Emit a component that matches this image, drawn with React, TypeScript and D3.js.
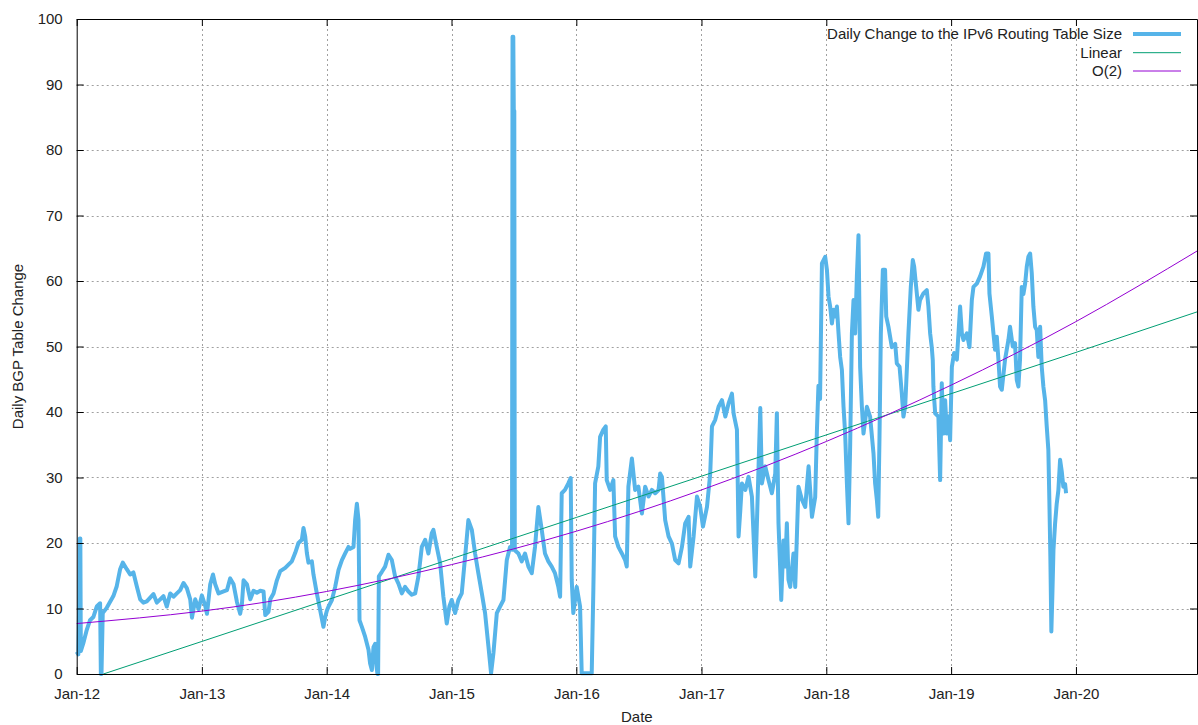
import React, { useEffect, useRef } from "react";
import * as d3 from "d3";

const W = 1198;
const H = 725;
const LEFT = 76.7;
const RIGHT = 1197;
const TOP = 19;
const BOTTOM = 674;

const xStart = new Date(2012, 0, 1);
const xEnd = new Date(2020, 11, 20);
const yDomain = [0, 100];
const yTicks = [0, 10, 20, 30, 40, 50, 60, 70, 80, 90, 100];
const xTickYears = [2012, 2013, 2014, 2015, 2016, 2017, 2018, 2019, 2020];

const seriesNames = ["Daily Change to the IPv6 Routing Table Size", "Linear", "O(2)"];
const seriesColors = ["#56b4e9", "#009e73", "#9400d3"];

// [decimal year, daily change]
const dailyChange: [number, number][] = [
  [2012.000, 3.4], [2012.013, 3.0], [2012.021, 12], [2012.025, 20.7], [2012.029, 20.7], [2012.033, 3.5],
  [2012.053, 4.7], [2012.080, 6.7], [2012.106, 8.2], [2012.133, 8.7], [2012.160, 10.3], [2012.187, 10.8],
  [2012.193, 0], [2012.198, 0], [2012.208, 9.3], [2012.240, 10.1], [2012.293, 11.9], [2012.320, 13.4],
  [2012.347, 16], [2012.368, 17], [2012.400, 16], [2012.427, 15.2], [2012.453, 15.5], [2012.480, 13.4],
  [2012.507, 11.4], [2012.533, 10.9], [2012.560, 11.1], [2012.613, 12.2], [2012.640, 10.9], [2012.667, 11.4],
  [2012.693, 11.9], [2012.720, 10.3], [2012.747, 12.3], [2012.773, 11.8], [2012.800, 12.3], [2012.827, 12.8],
  [2012.853, 13.9], [2012.880, 13.1], [2012.907, 11.4], [2012.921, 8.6], [2012.947, 11.4], [2012.974, 9.9],
  [2013.000, 12], [2013.027, 10.4], [2013.041, 9.2], [2013.067, 13.7], [2013.089, 15.2], [2013.107, 13.7],
  [2013.134, 12.3], [2013.174, 12.6], [2013.201, 12.8], [2013.227, 14.6], [2013.254, 13.7], [2013.281, 11],
  [2013.307, 9.2], [2013.321, 10.7], [2013.334, 14.3], [2013.361, 13.7], [2013.388, 11.4], [2013.414, 12.7],
  [2013.441, 12.4], [2013.468, 12.7], [2013.494, 12.6], [2013.508, 9], [2013.534, 9.5], [2013.548, 11.4],
  [2013.574, 12.3], [2013.601, 14.3], [2013.628, 15.7], [2013.668, 16.2], [2013.694, 16.7], [2013.721, 17.2],
  [2013.748, 18.5], [2013.774, 20], [2013.801, 20.5], [2013.814, 22.3], [2013.828, 21], [2013.841, 18.5],
  [2013.854, 17], [2013.881, 17.2], [2013.894, 15.2], [2013.921, 12.3], [2013.948, 9.7], [2013.974, 7.2],
  [2013.988, 8.7], [2014.002, 9.7], [2014.015, 10.3], [2014.042, 11.3], [2014.068, 13.3], [2014.095, 15.9],
  [2014.122, 17.4], [2014.148, 18.4], [2014.175, 19.4], [2014.188, 19.1], [2014.215, 19.4], [2014.228, 23.5],
  [2014.242, 26], [2014.255, 23.5], [2014.263, 8.2], [2014.282, 7.2], [2014.308, 5.7], [2014.335, 3.7],
  [2014.348, 1.6], [2014.362, 0.6], [2014.375, 4.1], [2014.388, 4.6], [2014.400, 1], [2014.407, 0],
  [2014.412, 0], [2014.418, 14.9], [2014.442, 15.6], [2014.468, 16.4], [2014.495, 18.2], [2014.522, 17.4],
  [2014.548, 14.9], [2014.575, 13.8], [2014.602, 12.3], [2014.628, 13.3], [2014.655, 12.6], [2014.682, 12.1],
  [2014.709, 12.3], [2014.735, 14.9], [2014.762, 19.4], [2014.789, 20.5], [2014.815, 18.4], [2014.842, 21.5],
  [2014.855, 22], [2014.882, 19.4], [2014.909, 16.9], [2014.935, 11.8], [2014.962, 7.7], [2014.983, 10.3],
  [2015.002, 11.3], [2015.029, 9.3], [2015.055, 11.3], [2015.082, 12.3], [2015.109, 17.9], [2015.135, 23.5],
  [2015.163, 22], [2015.189, 18.4], [2015.215, 15.4], [2015.243, 12.3], [2015.269, 9.3], [2015.296, 4.2],
  [2015.317, 0.1], [2015.336, 3.2], [2015.363, 9.3], [2015.389, 10.3], [2015.416, 11.3], [2015.443, 17.4],
  [2015.469, 19.4], [2015.485, 19], [2015.489, 97.3], [2015.495, 97.3], [2015.499, 86], [2015.503, 86],
  [2015.507, 18.9], [2015.536, 18.4], [2015.563, 17.2], [2015.589, 18.4], [2015.616, 16.4], [2015.643, 15.4],
  [2015.669, 19.4], [2015.696, 25.5], [2015.723, 22], [2015.749, 18.4], [2015.776, 17.2], [2015.803, 16.4],
  [2015.829, 15.4], [2015.856, 13.3], [2015.870, 11.8], [2015.883, 27.6], [2015.909, 28.1], [2015.936, 29.1],
  [2015.955, 29.9], [2015.963, 14.4], [2015.976, 9.3], [2016.003, 13.3], [2016.030, 10.3], [2016.043, 0.1],
  [2016.123, 0.1], [2016.136, 12.8], [2016.150, 29.1], [2016.176, 31.7], [2016.190, 36.2], [2016.216, 37.3],
  [2016.235, 37.8], [2016.243, 29.6], [2016.270, 28.1], [2016.296, 29.6], [2016.310, 21], [2016.336, 19.4],
  [2016.364, 18.4], [2016.390, 17.4], [2016.403, 16.4], [2016.416, 28.6], [2016.444, 32.9], [2016.470, 28.1],
  [2016.496, 28.6], [2016.524, 24.5], [2016.550, 28.6], [2016.577, 27.1], [2016.604, 28.1], [2016.630, 27.6],
  [2016.657, 28.1], [2016.670, 30.6], [2016.684, 30.1], [2016.710, 23.5], [2016.737, 21], [2016.764, 19.9],
  [2016.790, 17.4], [2016.817, 16.9], [2016.844, 19.4], [2016.870, 23], [2016.897, 24], [2016.910, 16.4],
  [2016.937, 21], [2016.964, 27.1], [2016.990, 25.5], [2017.012, 22.5], [2017.044, 25.5], [2017.070, 30.6],
  [2017.084, 37.8], [2017.110, 38.8], [2017.137, 40.8], [2017.164, 41.8], [2017.191, 39.3], [2017.217, 41.3],
  [2017.244, 42.8], [2017.257, 39.8], [2017.284, 37.3], [2017.297, 21], [2017.311, 25], [2017.324, 29.1],
  [2017.351, 28.1], [2017.377, 30.1], [2017.404, 27.1], [2017.431, 14.9], [2017.444, 23], [2017.471, 40.6],
  [2017.484, 29.1], [2017.511, 31.7], [2017.537, 29.6], [2017.564, 27.6], [2017.591, 30.6], [2017.604, 39.8],
  [2017.617, 23], [2017.631, 15.9], [2017.639, 11.3], [2017.657, 20.4], [2017.671, 16.4], [2017.684, 23],
  [2017.697, 14.4], [2017.711, 13.3], [2017.737, 18.4], [2017.751, 13.3], [2017.764, 20.9], [2017.777, 28.6],
  [2017.805, 26.6], [2017.831, 25.5], [2017.858, 31.7], [2017.885, 24], [2017.911, 27], [2017.925, 37.3],
  [2017.937, 44], [2017.950, 42], [2017.965, 62.7], [2017.991, 63.7], [2018.005, 61.7], [2018.018, 57.6],
  [2018.031, 56.1], [2018.045, 53.5], [2018.058, 55.6], [2018.071, 54.6], [2018.085, 56.1], [2018.098, 52],
  [2018.111, 48.4], [2018.125, 46.4], [2018.138, 40.8], [2018.151, 36.7], [2018.165, 29.1], [2018.178, 23],
  [2018.191, 34.7], [2018.205, 52], [2018.218, 57.1], [2018.231, 52], [2018.245, 60.7], [2018.258, 67],
  [2018.271, 46.9], [2018.285, 40.8], [2018.298, 36.7], [2018.325, 40.8], [2018.351, 39.3], [2018.378, 33.7],
  [2018.391, 29.1], [2018.405, 26.6], [2018.416, 24], [2018.426, 36], [2018.437, 52], [2018.453, 61.7],
  [2018.471, 61.7], [2018.480, 54.6], [2018.498, 53], [2018.525, 49.9], [2018.552, 50.4], [2018.565, 47.4],
  [2018.587, 46.9], [2018.605, 42.8], [2018.618, 39.3], [2018.632, 40.8], [2018.658, 52], [2018.677, 59.1],
  [2018.693, 63.2], [2018.704, 62.2], [2018.720, 59.1], [2018.738, 55.6], [2018.751, 57.1], [2018.778, 58.1],
  [2018.805, 58.6], [2018.818, 56.1], [2018.832, 52], [2018.845, 49.9], [2018.853, 47.9], [2018.858, 43.9],
  [2018.872, 39.8], [2018.898, 39.3], [2018.912, 29.6], [2018.925, 44.4], [2018.938, 36.7], [2018.952, 41.8],
  [2018.966, 36.7], [2018.978, 39.3], [2018.992, 35.7], [2019.006, 46.9], [2019.024, 49], [2019.046, 48],
  [2019.072, 56.1], [2019.086, 52], [2019.099, 51], [2019.126, 52], [2019.147, 49.9], [2019.166, 57.1],
  [2019.179, 59.1], [2019.206, 59.6], [2019.232, 60.7], [2019.259, 62.2], [2019.280, 64.2], [2019.299, 64.2],
  [2019.307, 58.1], [2019.326, 54.6], [2019.339, 52], [2019.352, 49.5], [2019.366, 51.5], [2019.379, 48],
  [2019.392, 43.9], [2019.406, 43.4], [2019.432, 48], [2019.459, 51], [2019.472, 53], [2019.494, 50],
  [2019.512, 50.5], [2019.526, 44.9], [2019.539, 43.9], [2019.552, 48], [2019.566, 59.1], [2019.579, 58],
  [2019.593, 59.6], [2019.606, 62.2], [2019.619, 63.7], [2019.633, 64.2], [2019.646, 61.2], [2019.659, 56.1],
  [2019.673, 53], [2019.686, 52.5], [2019.699, 48.4], [2019.713, 53], [2019.726, 46.9], [2019.739, 43.9],
  [2019.753, 41.8], [2019.766, 37.8], [2019.779, 34.2], [2019.787, 26.6], [2019.795, 18], [2019.803, 6.5],
  [2019.811, 12], [2019.820, 19], [2019.833, 23], [2019.846, 26], [2019.859, 28], [2019.873, 32.7],
  [2019.886, 31], [2019.899, 28.6], [2019.913, 29], [2019.921, 27.6],
];

const linearFit: [number, number][] = [
  [2012.213, 0], [2013.0, 4.97], [2014.0, 11.3], [2015.0, 17.6], [2016.0, 23.9], [2017.0, 30.2],
  [2018.0, 36.5], [2019.0, 42.8], [2020.0, 49.1], [2020.97, 55.3],
];

const quadFit: [number, number][] = [
  [2012.0, 7.7], [2013.0, 9.6], [2014.0, 12.6], [2015.0, 16.7], [2016.0, 21.8], [2017.0, 28.1],
  [2018.0, 35.5], [2019.0, 44.1], [2020.0, 53.8], [2020.97, 64.6],
];

function decToDate(d: number): Date {
  const y = Math.floor(d);
  const s = new Date(y, 0, 1).getTime();
  const e = new Date(y + 1, 0, 1).getTime();
  return new Date(s + (d - y) * (e - s));
}

const FONT = "'Liberation Sans', Arial, Helvetica, sans-serif";

export default function App() {
  const ref = useRef<SVGSVGElement | null>(null);

  useEffect(() => {
    const svg = d3.select(ref.current);
    svg.selectAll("*").remove();

    const x = d3.scaleTime().domain([xStart, xEnd]).range([LEFT, RIGHT]);
    const y = d3.scaleLinear().domain(yDomain).range([BOTTOM, TOP]);
    const xTicks = xTickYears.map((yr) => new Date(yr, 0, 1));
    const fmt = d3.timeFormat("%b-%y");

    // grid
    const grid = svg.append("g").attr("stroke", "#a0a0a0").attr("stroke-width", 1).attr("stroke-dasharray", "2,3");
    yTicks.filter((t) => t > yDomain[0] && t < yDomain[1]).forEach((t) => {
      grid.append("line").attr("x1", LEFT).attr("x2", RIGHT).attr("y1", Math.round(y(t)) + 0.5).attr("y2", Math.round(y(t)) + 0.5);
    });
    xTicks.slice(1).forEach((t) => {
      grid.append("line").attr("x1", Math.round(x(t)) + 0.5).attr("x2", Math.round(x(t)) + 0.5).attr("y1", TOP).attr("y2", BOTTOM);
    });

    // data
    const line = d3.line<[number, number]>().x((d) => x(decToDate(d[0]))).y((d) => y(d[1]));
    svg.append("path").attr("d", line(dailyChange)).attr("fill", "none")
      .attr("stroke", seriesColors[0]).attr("stroke-width", 4).attr("stroke-linejoin", "round");
    svg.append("path").attr("d", line(linearFit)).attr("fill", "none")
      .attr("stroke", seriesColors[1]).attr("stroke-width", 1);
    const curve = d3.line<[number, number]>().x((d) => x(decToDate(d[0]))).y((d) => y(d[1])).curve(d3.curveNatural);
    svg.append("path").attr("d", curve(quadFit)).attr("fill", "none")
      .attr("stroke", seriesColors[2]).attr("stroke-width", 1);

    // axes (ticks inward, mirrored)
    const axisBottom = d3.axisBottom(x).tickValues(xTicks).tickFormat((d) => fmt(d as Date)).tickSizeInner(-7).tickSizeOuter(0).tickPadding(14);
    const gB = svg.append("g").attr("transform", `translate(0,${BOTTOM})`).call(axisBottom);
    const axisTop = d3.axisTop(x).tickValues(xTicks).tickFormat(() => "").tickSizeInner(-7).tickSizeOuter(0);
    const gT = svg.append("g").attr("transform", `translate(0,${TOP})`).call(axisTop);
    const axisLeft = d3.axisLeft(y).tickValues(yTicks).tickSizeInner(-7).tickSizeOuter(0).tickPadding(14);
    const gL = svg.append("g").attr("transform", `translate(${LEFT},0)`).call(axisLeft);
    const axisRight = d3.axisRight(y).tickValues(yTicks).tickFormat(() => "").tickSizeInner(-7).tickSizeOuter(0);
    const gR = svg.append("g").attr("transform", `translate(${RIGHT},0)`).call(axisRight);
    [gB, gT, gL, gR].forEach((g) => {
      g.select(".domain").attr("stroke", "#000").attr("stroke-width", 1);
      g.selectAll(".tick line").attr("stroke", "#000");
      g.selectAll("text").attr("font-family", FONT).attr("font-size", 15).attr("fill", "#222");
    });

    // axis titles
    svg.append("text").attr("x", (LEFT + RIGHT) / 2).attr("y", 722).attr("text-anchor", "middle")
      .attr("font-family", FONT).attr("font-size", 15).attr("fill", "#222").text("Date");
    svg.append("text").attr("transform", `translate(23,${(TOP + BOTTOM) / 2}) rotate(-90)`).attr("text-anchor", "middle")
      .attr("font-family", FONT).attr("font-size", 15).attr("fill", "#222").text("Daily BGP Table Change");

    // legend
    const legRows = [34, 52.7, 71];
    const legWidths = [4, 1, 1];
    seriesNames.forEach((name, i) => {
      svg.append("text").attr("x", 1122).attr("y", legRows[i] + 5).attr("text-anchor", "end")
        .attr("font-family", FONT).attr("font-size", 15).attr("fill", "#222").text(name);
      svg.append("line").attr("x1", 1133).attr("x2", 1181).attr("y1", legRows[i]).attr("y2", legRows[i])
        .attr("stroke", seriesColors[i]).attr("stroke-width", legWidths[i]);
    });
  }, []);

  return (
    <div style={{ position: "absolute", left: 0, top: 0, width: W, height: H, background: "#fff" }}>
      <svg ref={ref} width={W} height={H} style={{ display: "block" }} />
    </div>
  );
}
